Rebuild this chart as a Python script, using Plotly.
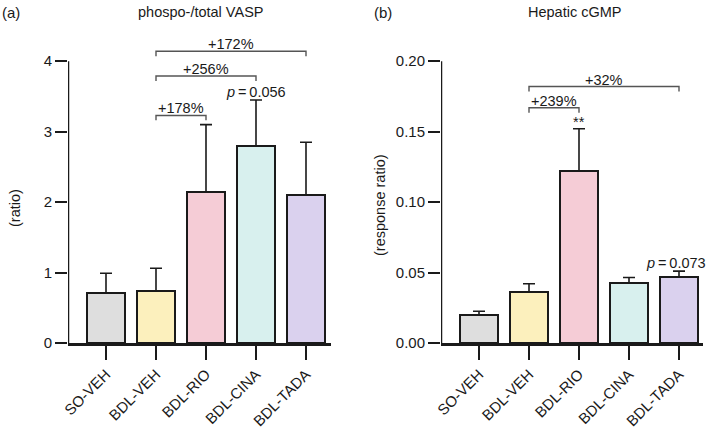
import plotly.graph_objects as go

W, H = 709, 428

categories = ["SO-VEH", "BDL-VEH", "BDL-RIO", "BDL-CINA", "BDL-TADA"]
colors = ["#dedede", "#fcf0bd", "#f5ccd6", "#d8f0ee", "#dad1ee"]

vasp_mean = [0.71, 0.74, 2.14, 2.80, 2.10]
vasp_err = [0.28, 0.32, 0.96, 0.65, 0.75]

cgmp_mean = [0.020, 0.036, 0.122, 0.0425, 0.047]
cgmp_err = [0.0025, 0.006, 0.030, 0.004, 0.004]

vasp_ticks = [0, 1, 2, 3, 4]
cgmp_ticks = [0.00, 0.05, 0.10, 0.15, 0.20]
cgmp_ticktext = ["0.00", "0.05", "0.10", "0.15", "0.20"]

# brackets: (from index, to index, y value, label)
vasp_brackets = [(1, 4, 4.14, "+172%"), (1, 3, 3.79, "+256%"), (1, 2, 3.23, "+178%")]
cgmp_brackets = [(1, 4, 0.182, "+32%"), (1, 2, 0.167, "+239%")]

FONT = "Liberation Sans, Arial, Helvetica, sans-serif"
INK = "#1a1a1a"
FS = 15
FS2 = 14.5


def px(x):
    return x / W


def py(y):
    return 1 - y / H


fig = go.Figure()

idx = list(range(len(categories)))
fig.add_trace(go.Bar(
    x=idx, y=vasp_mean, width=0.76, marker=dict(color=colors, line=dict(color=INK, width=2)),
    error_y=dict(type="data", symmetric=False, array=vasp_err, arrayminus=[0] * 5,
                 color=INK, thickness=1.6, width=6),
    xaxis="x", yaxis="y", showlegend=False))
fig.add_trace(go.Bar(
    x=idx, y=cgmp_mean, width=0.76, marker=dict(color=colors, line=dict(color=INK, width=2)),
    error_y=dict(type="data", symmetric=False, array=cgmp_err, arrayminus=[0] * 5,
                 color=INK, thickness=1.6, width=6),
    xaxis="x2", yaxis="y2", showlegend=False))

ydom = [py(343), py(33)]
axis_common = dict(showgrid=False, zeroline=False, ticks="outside", tickwidth=2, automargin=False,
                   tickcolor=INK, tickfont=dict(family=FONT, size=FS, color=INK))

fig.update_layout(
    width=W, height=H, margin=dict(l=0, r=0, t=0, b=0, pad=0), autosize=False,
    plot_bgcolor="white", paper_bgcolor="white", bargap=0,
    font=dict(family=FONT, size=FS, color=INK),
    xaxis=dict(domain=[px(68), px(331)], range=[-0.76, 4.5], tickvals=idx, ticktext=categories,
               tickangle=-45, ticklen=14, showline=True, linewidth=2.5, linecolor=INK,
               anchor="y", **axis_common),
    yaxis=dict(domain=ydom, range=[0, 4.4], tickvals=vasp_ticks, ticklen=12,
               showline=False, anchor="x", **axis_common),
    xaxis2=dict(domain=[px(441), px(703)], range=[-0.76, 4.48], tickvals=idx, ticktext=categories,
                tickangle=-45, ticklen=14, showline=True, linewidth=2.5, linecolor=INK,
                anchor="y2", **axis_common),
    yaxis2=dict(domain=ydom, range=[0, 0.22], tickvals=cgmp_ticks, ticktext=cgmp_ticktext,
                ticklen=12, showline=False, anchor="x2", **axis_common),
)

shapes = []
annotations = []

# y axis lines up to top tick
shapes.append(dict(type="line", xref="x", yref="y", x0=-0.76, x1=-0.76, y0=0, y1=4,
                   line=dict(color=INK, width=2.5)))
shapes.append(dict(type="line", xref="x2", yref="y2", x0=-0.76, x1=-0.76, y0=0, y1=0.20,
                   line=dict(color=INK, width=2.5)))


def add_brackets(brackets, xr, yr, drop):
    for a, b, yv, label in brackets:
        shapes.append(dict(type="path", xref=xr, yref=yr,
                           path=f"M {a},{yv - drop} L {a},{yv} L {b},{yv} L {b},{yv - drop}",
                           line=dict(color="#555555", width=1.4)))
        annotations.append(dict(xref=xr, yref=yr, x=(a + b) / 2, y=yv, text=label,
                                showarrow=False, yanchor="bottom", yshift=-3,
                                font=dict(size=FS2, color=INK)))


add_brackets(vasp_brackets, "x", "y", 0.07)
add_brackets(cgmp_brackets, "x2", "y2", 0.0036)

# p-values and significance
annotations.append(dict(xref="x", yref="y", x=3, y=vasp_mean[3] + vasp_err[3],
                        text="<i>p</i>\u2009=\u20090.056",
                        showarrow=False, yanchor="bottom", yshift=-2, font=dict(size=FS2, color=INK)))
annotations.append(dict(xref="paper", yref="paper", x=px(708), y=py(263),
                        text="<i>p</i>\u2009=\u20090.073",
                        showarrow=False, xanchor="right", yanchor="middle", font=dict(size=FS2, color=INK)))
annotations.append(dict(xref="x2", yref="y2", x=2, y=cgmp_mean[2] + cgmp_err[2], text="**",
                        showarrow=False, yanchor="bottom", yshift=-3, font=dict(size=FS2, color=INK)))

# titles and panel labels
annotations += [
    dict(xref="paper", yref="paper", x=px(200), y=py(12), text="phospo-/total VASP", showarrow=False,
         xanchor="center", yanchor="middle", font=dict(size=FS2, color=INK)),
    dict(xref="paper", yref="paper", x=px(574), y=py(12), text="Hepatic cGMP", showarrow=False,
         xanchor="center", yanchor="middle", font=dict(size=FS2, color=INK)),
    dict(xref="paper", yref="paper", x=px(0), y=py(12), text="(a)", showarrow=False,
         xanchor="left", yanchor="middle", font=dict(size=FS, color=INK)),
    dict(xref="paper", yref="paper", x=px(372), y=py(12), text="(b)", showarrow=False,
         xanchor="left", yanchor="middle", font=dict(size=FS, color=INK)),
    dict(xref="paper", yref="paper", x=px(15), y=py(208), text="(ratio)", showarrow=False,
         textangle=-90, xanchor="center", yanchor="middle", font=dict(size=FS2, color=INK)),
    dict(xref="paper", yref="paper", x=px(380), y=py(205), text="(response ratio)", showarrow=False,
         textangle=-90, xanchor="center", yanchor="middle", font=dict(size=FS2, color=INK)),
]

fig.update_layout(shapes=shapes, annotations=annotations)
fig.write_html("out.html", config={"displayModeBar": False},
               post_script="document.body.style.margin='0';document.body.style.padding='0';")
